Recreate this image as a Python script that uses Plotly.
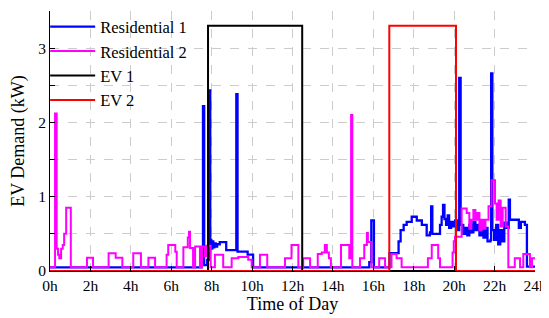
import plotly.graph_objects as go

# ---- data (hours, kW), step-wise ----
res1_t = [0, 7.50, 7.57, 7.63, 7.78, 7.87, 7.93, 7.98, 8.03, 8.08, 8.13, 8.20, 8.27, 8.40,
          8.72, 9.22, 9.28, 9.78, 10.05, 15.80, 15.90, 16.03, 16.80, 17.25, 17.35,
          17.50, 17.65, 17.90, 18.15, 18.40, 18.64, 18.80, 18.86, 18.92, 19.30, 19.38,
          19.45, 19.52, 19.60, 19.68, 19.75, 19.85, 19.95, 20.05, 20.17, 20.25, 20.32,
          20.45, 20.55, 20.65, 20.75, 20.85, 20.95, 21.05, 21.15, 21.25, 21.35, 21.45,
          21.55, 21.65, 21.80, 21.83, 21.89, 21.98, 22.08, 22.18, 22.28, 22.38, 22.48,
          22.58, 22.70, 22.76, 23.20, 23.30, 23.50, 23.60, 24.0]
res1_v = [0.05, 0.08, 2.22, 0.08, 0.15, 2.43, 0.42, 0.30, 0.40, 0.32, 0.37, 0.33, 0.36, 0.39,
          0.28, 2.38, 0.26, 0.22, 0.05, 0.12, 0.68, 0.05, 0.24, 0.40, 0.55,
          0.62, 0.66, 0.73, 0.68, 0.62, 0.48, 0.52, 0.87, 0.50, 0.62, 0.73,
          0.89, 0.70, 0.62, 0.75, 0.58, 0.66, 0.60, 0.68, 0.55, 2.60, 0.62,
          0.50, 0.58, 0.48, 0.62, 0.52, 0.66, 0.55, 0.62, 0.48, 0.60, 0.45,
          0.58, 0.40, 0.42, 2.66, 0.55, 0.42, 0.62, 0.36, 0.55, 0.40, 0.65,
          0.58, 0.96, 0.69, 0.58, 0.66, 0.62, 0.06, 0.06]

res2_t = [0, 0.25, 0.33, 0.40, 0.46, 0.55, 0.63, 0.70, 0.80, 1.03, 1.83, 2.13, 2.90, 3.25,
          3.58, 4.12, 4.50, 4.87, 5.20, 5.77, 5.85, 6.20, 6.27, 6.60, 6.82, 6.88, 6.93,
          7.08, 7.18, 7.42, 7.52, 7.67, 7.75, 7.95, 8.16, 8.57, 8.99, 9.32, 9.81, 9.98,
          10.39, 10.75, 11.63, 11.95, 12.05, 12.29, 12.53, 12.87, 13.25, 13.45, 13.60,
          13.70, 13.80, 13.90, 14.40, 14.81, 14.90, 14.96, 15.34, 15.55, 15.68, 15.73,
          15.83, 15.91, 16.29, 16.58, 16.90, 17.15, 17.40, 18.70, 18.89, 19.21, 19.30,
          19.92, 19.98, 20.04, 20.37, 20.62, 20.75, 20.85, 20.95, 21.05, 21.15, 21.25,
          21.35, 21.45, 21.55, 21.70, 21.85, 22.02, 22.10, 22.20, 22.30, 22.40, 22.55,
          22.68, 23.00, 23.26, 23.42, 23.75, 23.85, 24.0]
res2_v = [0.05, 2.12, 0.30, 0.22, 0.17, 0.30, 0.35, 0.50, 0.85, 0.05, 0.18, 0.05, 0.24, 0.18,
          0.05, 0.24, 0.05, 0.18, 0.05, 0.22, 0.35, 0.26, 0.05, 0.32, 0.45, 0.53, 0.31,
          0.05, 0.33, 0.05, 0.33, 0.20, 0.34, 0.05, 0.22, 0.05, 0.17, 0.19, 0.15, 0.05,
          0.22, 0.05, 0.17, 0.35, 0.35, 0.05, 0.17, 0.05, 0.23, 0.25, 0.35,
          0.25, 0.17, 0.05, 0.35, 0.17, 2.10, 0.05, 0.17, 0.35, 0.51, 0.39,
          0.39, 0.05, 0.17, 0.05, 0.23, 0.17, 0.05, 0.17, 0.35, 0.17, 0.05,
          0.25, 0.40, 0.46, 0.84, 0.78, 0.57, 0.69, 0.82, 0.69, 0.78, 0.55,
          0.69, 0.57, 0.69, 0.87, 1.22, 0.91, 0.69, 0.95, 0.60, 0.85, 0.60,
          0.05, 0.17, 0.05, 0.23, 0.05, 0.17, 0.17]

ev1_t = [0, 7.82, 12.48, 24.0]
ev1_v = [0, 3.30, 0, 0]

ev2_t = [0, 16.79, 20.09, 24.0]
ev2_v = [0, 3.30, 0, 0]

x_tick_vals = list(range(0, 25, 2))
x_tick_text = [f"{h}h" for h in x_tick_vals]
y_tick_vals = [0, 0.5, 1, 1.5, 2, 2.5, 3, 3.5]
y_tick_text = ["0", "", "1", "", "2", "", "3", ""]

FONT = "Liberation Serif"

fig = go.Figure()
fig.add_trace(go.Scatter(x=res1_t, y=res1_v, mode="lines", name="Residential 1",
                         line=dict(color="#0000ff", width=2.3, shape="hv")))
fig.add_trace(go.Scatter(x=res2_t, y=res2_v, mode="lines", name="Residential 2",
                         line=dict(color="#ff00ff", width=2, shape="hv")))
fig.add_trace(go.Scatter(x=ev1_t, y=ev1_v, mode="lines", name="EV 1",
                         line=dict(color="#000000", width=2, shape="hv")))
fig.add_trace(go.Scatter(x=ev2_t, y=ev2_v, mode="lines", name="EV 2",
                         line=dict(color="#ff0000", width=2, shape="hv")))

# page body has an 8px default margin, so the figure is sized to fit the window
fig.update_layout(
    width=541, height=310,
    margin=dict(l=42, r=14, t=3, b=47, autoexpand=False),
    paper_bgcolor="white", plot_bgcolor="white",
    font=dict(family=FONT, size=15, color="black"),
    showlegend=True,
    legend=dict(x=-0.01, y=1.006, xanchor="left", yanchor="top",
                bgcolor="rgba(0,0,0,0)", font=dict(size=16.5, family=FONT, color="black"),
                tracegroupgap=0, itemwidth=45),
    xaxis=dict(range=[0, 24], tickvals=x_tick_vals, ticktext=x_tick_text,
               tickfont=dict(family=FONT, size=15.5, color="black"),
               ticks="inside", ticklen=5, tickcolor="black",
               showline=True, linecolor="black", linewidth=1,
               showgrid=True, gridcolor="#cccccc", griddash="dash", gridwidth=1,
               zeroline=False, automargin=False,
               title=dict(text="Time of Day", font=dict(size=18, family=FONT), standoff=3)),
    yaxis=dict(range=[0, 3.5], tickvals=y_tick_vals, ticktext=y_tick_text,
               tickfont=dict(family=FONT, size=15.5, color="black"),
               ticks="inside", ticklen=5, tickcolor="black",
               showline=True, linecolor="black", linewidth=1,
               showgrid=True, gridcolor="#cccccc", griddash="dash", gridwidth=1,
               zeroline=False, automargin=False,
               title=dict(text="EV Demand (kW)", font=dict(size=18, family=FONT), standoff=8)),
)

fig.write_html("out.html")
